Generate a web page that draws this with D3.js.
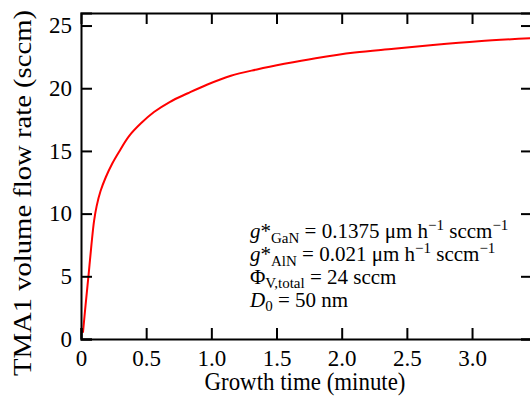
<!DOCTYPE html>
<html lang="en">
<head>
<meta charset="utf-8">
<title>TMA1 volume flow rate</title>
<script src="https://cdn.jsdelivr.net/npm/d3@7"></script>
<style>
  body { margin: 0; background: #fff; }
  svg text { font-family: "Liberation Serif", "Times New Roman", Times, "DejaVu Serif", serif; fill: #000; }
</style>
</head>
<body>
<div id="chart"></div>
<script>
// growth time (minute) and TMA1 flow (sccm)
var times = [0.015, 0.035, 0.058, 0.08, 0.1, 0.12, 0.15, 0.19, 0.24, 0.29, 0.37, 0.46, 0.56, 0.68, 0.82, 0.97, 1.15, 1.35, 1.56, 1.8, 2.1, 2.4, 2.7, 3.05, 3.46];
var flows = [0.5, 2.7, 5.1, 7.5, 9.4, 10.6, 11.8, 12.9, 14.0, 14.9, 16.2, 17.2, 18.1, 18.9, 19.6, 20.3, 21.0, 21.5, 21.95, 22.4, 22.85, 23.15, 23.45, 23.75, 24.0];
var xTicks = [0, 0.5, 1.0, 1.5, 2.0, 2.5, 3.0];
var yTicks = [0, 5, 10, 15, 20, 25];

var w = 530, h = 400;
var pLeft = 81, pTop = 13, pRight = 532, pBottom = 339;
var serif = "'Liberation Serif', 'Times New Roman', serif";

var svg = d3.select("#chart").append("svg")
  .attr("width", w)
  .attr("height", h)
  .attr("font-family", serif);

var x = d3.scaleLinear().domain([0, 3.46]).range([pLeft, pRight]);
var y = d3.scaleLinear().domain([0, 26]).range([pBottom, pTop]);

// curve
var pts = times.map(function(t, i) { return [t, flows[i]]; });
var line = d3.line()
  .x(function(d) { return x(d[0]); })
  .y(function(d) { return y(d[1]); })
  .curve(d3.curveCatmullRom.alpha(0.5));

svg.append("path")
  .attr("d", line(pts))
  .attr("fill", "none")
  .attr("stroke", "#ff0000")
  .attr("stroke-width", 2);

// axes, ticks inward and mirrored
var axB = svg.append("g").attr("transform", "translate(0," + pBottom + ")")
  .call(d3.axisBottom(x).tickValues(xTicks).tickSize(-11)
    .tickFormat(function(d) { return d === 0 ? "0" : d3.format(".1f")(d); }));
var axT = svg.append("g").attr("transform", "translate(0," + pTop + ")")
  .call(d3.axisTop(x).tickValues(xTicks.slice(1)).tickSize(-11).tickFormat(""));
var axL = svg.append("g").attr("transform", "translate(" + pLeft + ",0)")
  .call(d3.axisLeft(y).tickValues(yTicks).tickSize(-11).tickPadding(20));
var axR = svg.append("g").attr("transform", "translate(" + pRight + ",0)")
  .call(d3.axisRight(y).tickValues(yTicks).tickSize(-11).tickFormat(""));

[axB, axT, axL, axR].forEach(function(g) {
  g.attr("font-family", serif);
  g.select(".domain").attr("stroke", "#000").attr("stroke-width", 2);
  g.selectAll(".tick line").attr("stroke", "#000").attr("stroke-width", 2);
  g.selectAll("text").style("font-size", "23px").attr("fill", "#000");
});
axB.selectAll(".tick text").attr("y", 27).attr("dy", 0);
axL.selectAll(".tick text").attr("x", -9);

// axis titles
svg.append("text")
  .attr("x", 305).attr("y", 390)
  .attr("text-anchor", "middle")
  .attr("textLength", 201)
  .attr("lengthAdjust", "spacingAndGlyphs")
  .style("font-size", "25px")
  .text("Growth time (minute)");

svg.append("text")
  .attr("transform", "translate(31," + 193 + ") rotate(-90)")
  .attr("text-anchor", "middle")
  .attr("textLength", 366)
  .attr("lengthAdjust", "spacingAndGlyphs")
  .style("font-size", "25px")
  .text("TMA1 volume flow rate (sccm)");

// annotation
var note = svg.append("g").style("font-size", "21px");
var l1 = note.append("text").attr("x", 250).attr("y", 238);
l1.append("tspan").style("font-style", "italic").text("g");
l1.append("tspan").text("*");
l1.append("tspan").attr("dy", 5).style("font-size", "15px").text("GaN");
l1.append("tspan").attr("dy", -5).text(" = 0.1375 \u03bcm h");
l1.append("tspan").attr("dy", -8).style("font-size", "15px").text("\u22121");
l1.append("tspan").attr("dy", 8).text(" sccm");
l1.append("tspan").attr("dy", -8).style("font-size", "15px").text("\u22121");

var l2 = note.append("text").attr("x", 250).attr("y", 261);
l2.append("tspan").style("font-style", "italic").text("g");
l2.append("tspan").text("*");
l2.append("tspan").attr("dy", 5).style("font-size", "15px").text("AlN");
l2.append("tspan").attr("dy", -5).text(" = 0.021 \u03bcm h");
l2.append("tspan").attr("dy", -8).style("font-size", "15px").text("\u22121");
l2.append("tspan").attr("dy", 8).text(" sccm");
l2.append("tspan").attr("dy", -8).style("font-size", "15px").text("\u22121");

var l3 = note.append("text").attr("x", 250).attr("y", 284);
l3.append("tspan").text("\u03a6");
l3.append("tspan").attr("dy", 4).style("font-size", "15px").text("V,total");
l3.append("tspan").attr("dy", -4).text(" = 24 sccm");

var l4 = note.append("text").attr("x", 250).attr("y", 307);
l4.append("tspan").style("font-style", "italic").text("D");
l4.append("tspan").attr("dy", 4).style("font-size", "15px").text("0");
l4.append("tspan").attr("dy", -4).text(" = 50 nm");
</script>
</body>
</html>
